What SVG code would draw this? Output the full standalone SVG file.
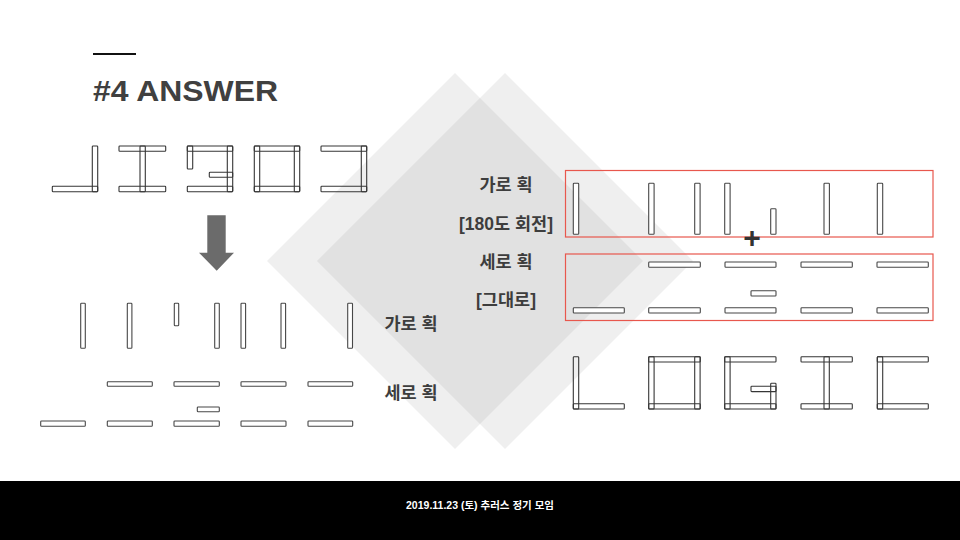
<svg xmlns="http://www.w3.org/2000/svg" width="960" height="540" viewBox="0 0 960 540">
<style>
.bg{fill:#7f7f7f;fill-opacity:0.12}
.bar{fill:#fff;stroke:#474747;stroke-width:1.1}
.gl{fill:none;stroke:#363636;stroke-width:1.1}
.lbl{font-family:"Liberation Sans","Noto Sans CJK KR",sans-serif;font-weight:bold;font-size:17.5px;fill:#3d3d3d;text-anchor:middle}
.box{fill:none;stroke:#e8574d;stroke-width:1.2}
</style>
<rect x="0" y="0" width="960" height="540" fill="#fff"/>
<g id="background">
<polygon class="bg" points="455,73 643,261 455,449 267,261"/>
<polygon class="bg" points="505,73 693,261 505,449 317,261"/>
</g>
<g id="title">
<line x1="93" y1="54" x2="136" y2="54" stroke="#111" stroke-width="2"/>
<text x="93" y="101" font-family="Liberation Sans, Arial, sans-serif" font-weight="bold" font-size="29" fill="#404040" textLength="185" lengthAdjust="spacingAndGlyphs">#4 ANSWER</text>
</g>
<g id="original-glyphs">
<g id="g1">
<rect class="gl" x="92.3" y="146" width="5.4" height="45.7" rx="0.8"/>
<rect class="gl" x="52.3" y="186.2" width="45.4" height="5.5" rx="0.8"/>
</g>
<g id="g2">
<rect class="gl" x="119" y="146" width="46.7" height="5.3" rx="0.8"/>
<rect class="gl" x="119" y="186.2" width="46.7" height="5.5" rx="0.8"/>
<rect class="gl" x="140" y="146" width="5.3" height="45.7" rx="0.8"/>
</g>
<g id="g3">
<rect class="gl" x="187.3" y="146" width="45.4" height="5.3" rx="0.8"/>
<rect class="gl" x="187.3" y="146" width="5.4" height="23" rx="0.8"/>
<rect class="gl" x="227.3" y="146" width="5.4" height="45.7" rx="0.8"/>
<rect class="gl" x="209.3" y="172.3" width="23.4" height="5" rx="0.8"/>
<rect class="gl" x="187.3" y="186.2" width="45.4" height="5.5" rx="0.8"/>
</g>
<g id="g4">
<rect class="gl" x="254.3" y="146" width="45.4" height="5.3" rx="0.8"/>
<rect class="gl" x="254.3" y="186.2" width="45.4" height="5.5" rx="0.8"/>
<rect class="gl" x="254.3" y="146" width="5.4" height="45.7" rx="0.8"/>
<rect class="gl" x="294.3" y="146" width="5.4" height="45.7" rx="0.8"/>
</g>
<g id="g5">
<rect class="gl" x="321" y="146" width="45.7" height="5.3" rx="0.8"/>
<rect class="gl" x="321" y="186.2" width="45.7" height="5.5" rx="0.8"/>
<rect class="gl" x="361.3" y="146" width="5.4" height="45.7" rx="0.8"/>
</g>
</g>
<g id="arrow">
<polygon points="207.3,215.3 225.7,215.3 225.7,252.7 234,252.7 216.7,270.7 199,252.7 207.3,252.7" fill="#6b6b6b"/>
</g>
<g id="left-vertical-strokes">
<rect class="bar" x="80.7" y="303.3" width="4.6" height="45" rx="0.8"/>
<rect class="bar" x="127.3" y="303.3" width="4.6" height="45" rx="0.8"/>
<rect class="bar" x="174.3" y="303.3" width="4.4" height="22.4" rx="0.8"/>
<rect class="bar" x="214.7" y="303.3" width="4.6" height="45" rx="0.8"/>
<rect class="bar" x="241" y="303.3" width="4.6" height="45" rx="0.8"/>
<rect class="bar" x="281" y="303.3" width="4.6" height="45" rx="0.8"/>
<rect class="bar" x="347.7" y="303.3" width="4.8" height="45" rx="0.8"/>
</g>
<g id="left-horizontal-strokes">
<rect class="bar" x="107.3" y="381.7" width="45" height="4.6" rx="0.8"/>
<rect class="bar" x="174" y="381.7" width="45.3" height="4.6" rx="0.8"/>
<rect class="bar" x="241" y="381.7" width="45" height="4.6" rx="0.8"/>
<rect class="bar" x="308" y="381.7" width="44.7" height="4.6" rx="0.8"/>
<rect class="bar" x="197.3" y="407" width="22" height="4.7" rx="0.8"/>
<rect class="bar" x="40.7" y="421" width="44.6" height="5.3" rx="0.8"/>
<rect class="bar" x="107.3" y="421" width="45" height="5.3" rx="0.8"/>
<rect class="bar" x="174" y="421" width="45.3" height="5.3" rx="0.8"/>
<rect class="bar" x="241" y="421" width="45" height="5.3" rx="0.8"/>
<rect class="bar" x="308" y="421" width="44.7" height="5.3" rx="0.8"/>
</g>
<g id="labels">
<text class="lbl" x="506" y="191">가로 획</text>
<text class="lbl" x="506" y="229.5">[180도 회전]</text>
<text class="lbl" x="506" y="268">세로 획</text>
<text class="lbl" x="506" y="306">[그대로]</text>
<text class="lbl" x="411" y="329.6">가로 획</text>
<text class="lbl" x="411" y="399">세로 획</text>
</g>
<g id="rotated-box">
<rect class="box" x="565.5" y="170.5" width="367.5" height="66.5"/>
<rect class="bar" x="573.3" y="183.3" width="5.4" height="51" rx="0.8"/>
<rect class="bar" x="648.7" y="183.3" width="5.4" height="51" rx="0.8"/>
<rect class="bar" x="694.7" y="183.3" width="5.4" height="51" rx="0.8"/>
<rect class="bar" x="724.7" y="183.3" width="5.4" height="51" rx="0.8"/>
<rect class="bar" x="770.7" y="208.7" width="5.3" height="25.6" rx="0.8"/>
<rect class="bar" x="824" y="183.3" width="5.4" height="51" rx="0.8"/>
<rect class="bar" x="877.3" y="183.3" width="5.4" height="51" rx="0.8"/>
</g>
<g id="plus">
<text x="752" y="247.5" font-family="Liberation Sans, Arial, sans-serif" font-weight="bold" font-size="30" fill="#333" text-anchor="middle">+</text>
</g>
<g id="same-box">
<rect class="box" x="565.5" y="254" width="367.5" height="66.5"/>
<rect class="bar" x="648.7" y="262" width="51.6" height="5.3" rx="0.8"/>
<rect class="bar" x="725" y="262" width="51" height="5.3" rx="0.8"/>
<rect class="bar" x="801" y="262" width="51.3" height="5.3" rx="0.8"/>
<rect class="bar" x="877" y="262" width="51.3" height="5.3" rx="0.8"/>
<rect class="bar" x="751" y="290.7" width="25" height="5.3" rx="0.8"/>
<rect class="bar" x="573.3" y="307.7" width="51" height="5.3" rx="0.8"/>
<rect class="bar" x="648.7" y="307.7" width="51.6" height="5.3" rx="0.8"/>
<rect class="bar" x="725" y="307.7" width="51" height="5.3" rx="0.8"/>
<rect class="bar" x="801" y="307.7" width="51.3" height="5.3" rx="0.8"/>
<rect class="bar" x="877" y="307.7" width="51.3" height="5.3" rx="0.8"/>
</g>
<g id="logic">
<g id="L">
<rect class="gl" x="573.3" y="356.7" width="5.4" height="52.3" rx="0.8"/>
<rect class="gl" x="573.3" y="403.7" width="51" height="5.3" rx="0.8"/>
</g>
<g id="O">
<rect class="gl" x="648.7" y="356.7" width="51.6" height="5.3" rx="0.8"/>
<rect class="gl" x="648.7" y="403.7" width="51.6" height="5.3" rx="0.8"/>
<rect class="gl" x="648.7" y="356.7" width="5.4" height="52.3" rx="0.8"/>
<rect class="gl" x="694.7" y="356.7" width="5.4" height="52.3" rx="0.8"/>
</g>
<g id="G">
<rect class="gl" x="724.7" y="356.7" width="51.3" height="5.3" rx="0.8"/>
<rect class="gl" x="724.7" y="403.7" width="51.3" height="5.3" rx="0.8"/>
<rect class="gl" x="724.7" y="356.7" width="5.4" height="52.3" rx="0.8"/>
<rect class="gl" x="770.7" y="383.3" width="5.3" height="25.7" rx="0.8"/>
<rect class="gl" x="751" y="386.3" width="25" height="5.3" rx="0.8"/>
</g>
<g id="I">
<rect class="gl" x="801" y="356.7" width="51.3" height="5.3" rx="0.8"/>
<rect class="gl" x="801" y="403.7" width="51.3" height="5.3" rx="0.8"/>
<rect class="gl" x="824" y="356.7" width="5.3" height="52.3" rx="0.8"/>
</g>
<g id="C">
<rect class="gl" x="877.3" y="356.7" width="51" height="5.3" rx="0.8"/>
<rect class="gl" x="877.3" y="403.7" width="51" height="5.3" rx="0.8"/>
<rect class="gl" x="877.3" y="356.7" width="5.4" height="52.3" rx="0.8"/>
</g>
</g>
<g id="footer">
<rect x="0" y="481" width="960" height="59" fill="#000"/>
<text x="480" y="508.5" font-family="Liberation Sans, Noto Sans CJK KR, sans-serif" font-weight="bold" font-size="10.5" fill="#fff" text-anchor="middle">2019.11.23 (토) 추러스 정기 모임</text>
</g>
</svg>
